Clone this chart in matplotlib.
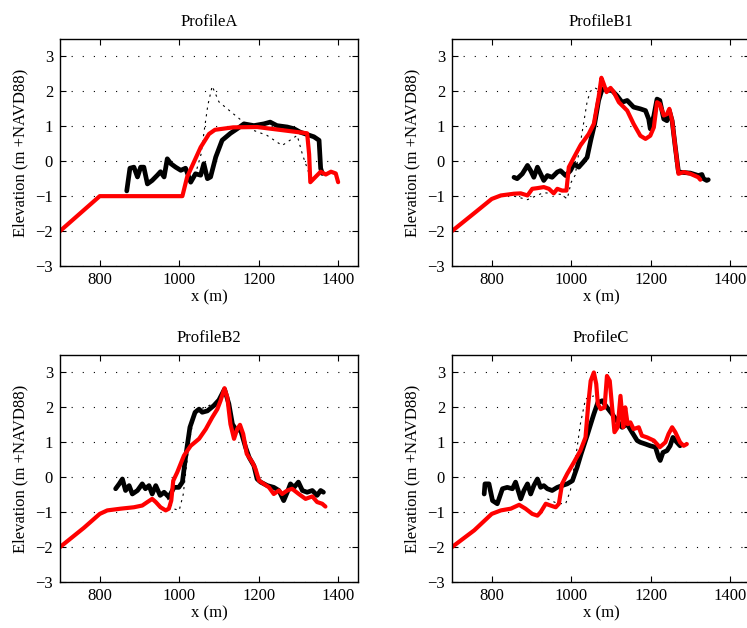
import matplotlib as mpl
mpl.use("Agg")
import matplotlib.pyplot as plt

plt.rcParams["font.family"] = ["Liberation Serif", "DejaVu Serif"]
plt.rcParams["font.size"] = 12

#Profile A
a_x_black = [868, 876, 886, 895, 903, 911, 920, 932, 945, 953, 962, 970, 979, 991, 1004, 1016, 1029, 1041,
             1054, 1062, 1071, 1079, 1092, 1108, 1129, 1146, 1163, 1188, 1213, 1229, 1246, 1272, 1289, 1305,
             1339, 1352, 1356, 1360]
a_y_black = [-0.85, -0.2, -0.17, -0.45, -0.17, -0.17, -0.65, -0.55, -0.4, -0.3, -0.45, 0.07, -0.07, -0.17, -0.26,
             -0.2, -0.6, -0.36, -0.4, -0.07, -0.5, -0.45, 0.12, 0.6, 0.8, 0.93, 1.07, 1.02, 1.07, 1.12, 1.02,
             0.98, 0.93, 0.83, 0.7, 0.6, -0.2, -0.35]
a_x_red = [700, 800, 1008, 1020, 1054, 1075, 1090, 1136, 1196, 1322, 1327, 1330, 1343, 1356, 1369, 1382, 1394, 1400]
a_y_red = [-2.0, -1.0, -1.0, -0.45, 0.4, 0.78, 0.9, 0.97, 0.98, 0.8, 0.2, -0.6, -0.45, -0.3, -0.38, -0.3, -0.35, -0.6]
a_x_dot = [1040, 1055, 1062, 1072, 1083, 1100, 1136, 1188, 1221, 1259, 1297, 1310, 1327]
a_y_dot = [-0.4, 0.2, 0.8, 1.6, 2.15, 1.7, 1.36, 0.88, 0.74, 0.45, 0.74, 0.2, -0.36]

#Profile B1
b1_x_black = [856, 864, 877, 890, 898, 906, 915, 923, 931, 940, 952, 965, 973, 986, 998, 1007, 1019, 1030,
              1040, 1049, 1059, 1069, 1078, 1090, 1103, 1115, 1128, 1141, 1157, 1174, 1187, 1195, 1199, 1208,
              1216, 1223, 1233, 1241, 1247, 1254, 1262, 1270, 1300, 1320, 1329, 1333, 1341, 1345]
b1_y_black = [-0.46, -0.5, -0.36, -0.12, -0.27, -0.46, -0.17, -0.36, -0.55, -0.41, -0.46, -0.31, -0.27, -0.41,
              -0.27, -0.08, -0.17, -0.03, 0.11, 0.59, 1.07, 1.74, 2.07, 2.04, 2.02, 1.88, 1.69, 1.74, 1.55, 1.5,
              1.45, 1.21, 0.93, 1.3, 1.78, 1.74, 1.21, 1.16, 1.45, 1.16, 0.4, -0.31, -0.34, -0.41, -0.38, -0.5,
              -0.55, -0.53]
b1_x_red = [700, 760, 800, 823, 856, 873, 890, 902, 915, 931, 944, 956, 965, 977, 988, 994, 1007, 1023, 1044,
            1057, 1069, 1076, 1082, 1089, 1099, 1107, 1120, 1141, 1157, 1174, 1187, 1199, 1208, 1216, 1223,
            1233, 1241, 1247, 1254, 1262, 1270, 1283, 1300, 1320, 1325]
b1_y_red = [-2.0, -1.45, -1.08, -0.98, -0.93, -0.92, -0.98, -0.79, -0.77, -0.74, -0.79, -0.92, -0.79, -0.84,
            -0.84, -0.17, 0.11, 0.45, 0.78, 1.07, 1.83, 2.39, 2.21, 1.98, 2.1, 1.98, 1.69, 1.45, 1.07, 0.73,
            0.64, 0.73, 0.97, 1.69, 1.64, 1.31, 1.35, 1.5, 1.16, 0.4, -0.36, -0.31, -0.36, -0.46, -0.53]
b1_x_dot = [856, 890, 930, 975, 990, 1000, 1010, 1020, 1030, 1040, 1048, 1060, 1075]
b1_y_dot = [-1.0, -1.1, -0.9, -0.95, -1.08, -0.6, -0.4, 0.3, 1.0, 1.7, 2.0, 2.1, 2.0]

#Profile B2
b2_x_black = [840, 849, 857, 865, 874, 882, 895, 907, 915, 924, 932, 941, 952, 962, 974, 987, 999, 1008, 1016,
              1027, 1040, 1050, 1058, 1071, 1087, 1100, 1114, 1125, 1134, 1142, 1155, 1167, 1176, 1188, 1196,
              1205, 1222, 1238, 1251, 1263, 1272, 1280, 1289, 1300, 1310, 1322, 1335, 1347, 1356, 1363]
b2_y_black = [-0.33, -0.19, -0.05, -0.38, -0.24, -0.48, -0.38, -0.19, -0.33, -0.24, -0.48, -0.24, -0.52, -0.43,
              -0.57, -0.29, -0.29, -0.14, 0.57, 1.43, 1.86, 1.95, 1.86, 1.9, 2.05, 2.21, 2.52, 2.1, 1.52, 1.38,
              1.33, 0.86, 0.57, 0.33, -0.05, -0.14, -0.24, -0.29, -0.38, -0.67, -0.43, -0.19, -0.29, -0.14,
              -0.38, -0.43, -0.38, -0.52, -0.38, -0.43]
b2_x_red = [700, 760, 800, 819, 853, 886, 907, 920, 932, 941, 953, 966, 974, 980, 985, 995, 1012, 1029, 1050,
            1067, 1083, 1096, 1104, 1114, 1121, 1129, 1138, 1146, 1153, 1161, 1170, 1184, 1192, 1201, 1213,
            1226, 1238, 1251, 1259, 1272, 1284, 1301, 1318, 1335, 1347, 1360, 1368]
b2_y_red = [-2.0, -1.45, -1.05, -0.95, -0.9, -0.86, -0.81, -0.71, -0.62, -0.71, -0.86, -0.95, -0.9, -0.67, -0.1,
            0.14, 0.62, 0.9, 1.1, 1.38, 1.71, 1.95, 2.19, 2.55, 2.29, 1.52, 1.1, 1.38, 1.5, 1.24, 0.67, 0.43,
            0.24, -0.1, -0.19, -0.29, -0.48, -0.38, -0.48, -0.38, -0.33, -0.48, -0.62, -0.55, -0.71, -0.76, -0.84]
b2_x_dot = [970, 985, 1000, 1010, 1025, 1040, 1075, 1100]
b2_y_dot = [-0.6, -0.9, -0.95, -0.5, 1.0, 1.9, 2.05, 2.2]

#Profile C
c_x_black = [781, 783, 793, 802, 814, 827, 839, 852, 860, 873, 881, 890, 898, 906, 915, 923, 931, 940, 952,
             965, 977, 990, 1003, 1015, 1025, 1033, 1040, 1049, 1057, 1067, 1078, 1090, 1103, 1115, 1128, 1141,
             1153, 1166, 1174, 1187, 1199, 1212, 1220, 1224, 1231, 1241, 1249, 1256, 1266, 1274]
c_y_black = [-0.48, -0.19, -0.19, -0.67, -0.76, -0.33, -0.29, -0.33, -0.14, -0.62, -0.38, -0.19, -0.48, -0.24,
             -0.05, -0.29, -0.24, -0.33, -0.38, -0.29, -0.24, -0.19, -0.1, 0.29, 0.67, 0.95, 1.19, 1.52, 1.81,
             2.14, 2.19, 2.0, 1.81, 1.62, 1.43, 1.52, 1.29, 1.05, 1.0, 0.95, 0.9, 0.86, 0.57, 0.48, 0.71, 0.76,
             0.9, 1.14, 1.0, 0.9]
c_x_red = [700, 756, 800, 823, 848, 869, 885, 902, 915, 923, 936, 948, 961, 969, 977, 990, 1007, 1023, 1036,
           1043, 1049, 1057, 1063, 1067, 1074, 1084, 1090, 1097, 1103, 1109, 1117, 1124, 1131, 1136, 1142, 1149,
           1157, 1170, 1178, 1191, 1208, 1223, 1237, 1245, 1254, 1262, 1274, 1283, 1291]
c_y_red = [-2.0, -1.52, -1.05, -0.95, -0.9, -0.79, -0.9, -1.05, -1.1, -1.0, -0.76, -0.81, -0.86, -0.76, -0.19,
           0.1, 0.43, 0.76, 1.14, 2.1, 2.76, 3.0, 2.67, 2.1, 1.95, 2.0, 2.9, 2.76, 2.0, 1.29, 1.43, 2.33, 1.43,
           2.0, 1.52, 1.57, 1.38, 1.43, 1.19, 1.14, 1.05, 0.86, 1.0, 1.24, 1.43, 1.29, 1.0, 0.9, 0.95]
c_x_dot = [940, 965, 986, 998, 1015, 1023, 1036, 1057]
c_y_dot = [-0.62, -0.75, -0.76, -0.38, 0.86, 1.52, 2.24, 2.33]

titles = ["ProfileA", "ProfileB1", "ProfileB2", "ProfileC"]
panels = [
    (a_x_black, a_y_black, a_x_red, a_y_red, a_x_dot, a_y_dot),
    (b1_x_black, b1_y_black, b1_x_red, b1_y_red, b1_x_dot, b1_y_dot),
    (b2_x_black, b2_y_black, b2_x_red, b2_y_red, b2_x_dot, b2_y_dot),
    (c_x_black, c_y_black, c_x_red, c_y_red, c_x_dot, c_y_dot),
]
#axes positions in pixels (left, top) of the 747x628 figure
corners = [(60, 39), (452, 39), (60, 355), (452, 355)]

W, H = 747, 628
fig = plt.figure(figsize=(W / 100, H / 100), dpi=100)

for (xb, yb, xr, yr, xd, yd), title, (left, top) in zip(panels, titles, corners):
    ax = fig.add_axes([left / W, 1 - (top + 227) / H, 298 / W, 227 / H])
    ax.plot(xd, yd, color="black", lw=0.8, ls=(0, (2, 4)))
    ax.plot(xb, yb, color="black", lw=3.4, solid_joinstyle="round", solid_capstyle="round")
    ax.plot(xr, yr, color="red", lw=3.0, solid_joinstyle="round", solid_capstyle="round")
    ax.set_xlim(700, 1450)
    ax.set_ylim(-3, 3.5)
    ax.set_xticks([800, 1000, 1200, 1400])
    ax.set_yticks([-3, -2, -1, 0, 1, 2, 3])
    ax.set_yticklabels(["\u22123", "\u22122", "\u22121", "0", "1", "2", "3"])
    ax.grid(axis="y", color="black", lw=0.8, ls=(0, (1, 9)))
    ax.tick_params(direction="in", top=True, right=True, length=4, width=0.8)
    ax.tick_params(axis="x", pad=4)
    ax.tick_params(axis="y", pad=5)
    for sp in ax.spines.values():
        sp.set_linewidth(1.0)
    ax.set_title(title, fontsize=12, pad=9)
    ax.set_xlabel("x (m)", labelpad=1)
    ax.set_ylabel("Elevation (m +NAVD88)", labelpad=5)

plt.savefig("out.png", dpi=100)
